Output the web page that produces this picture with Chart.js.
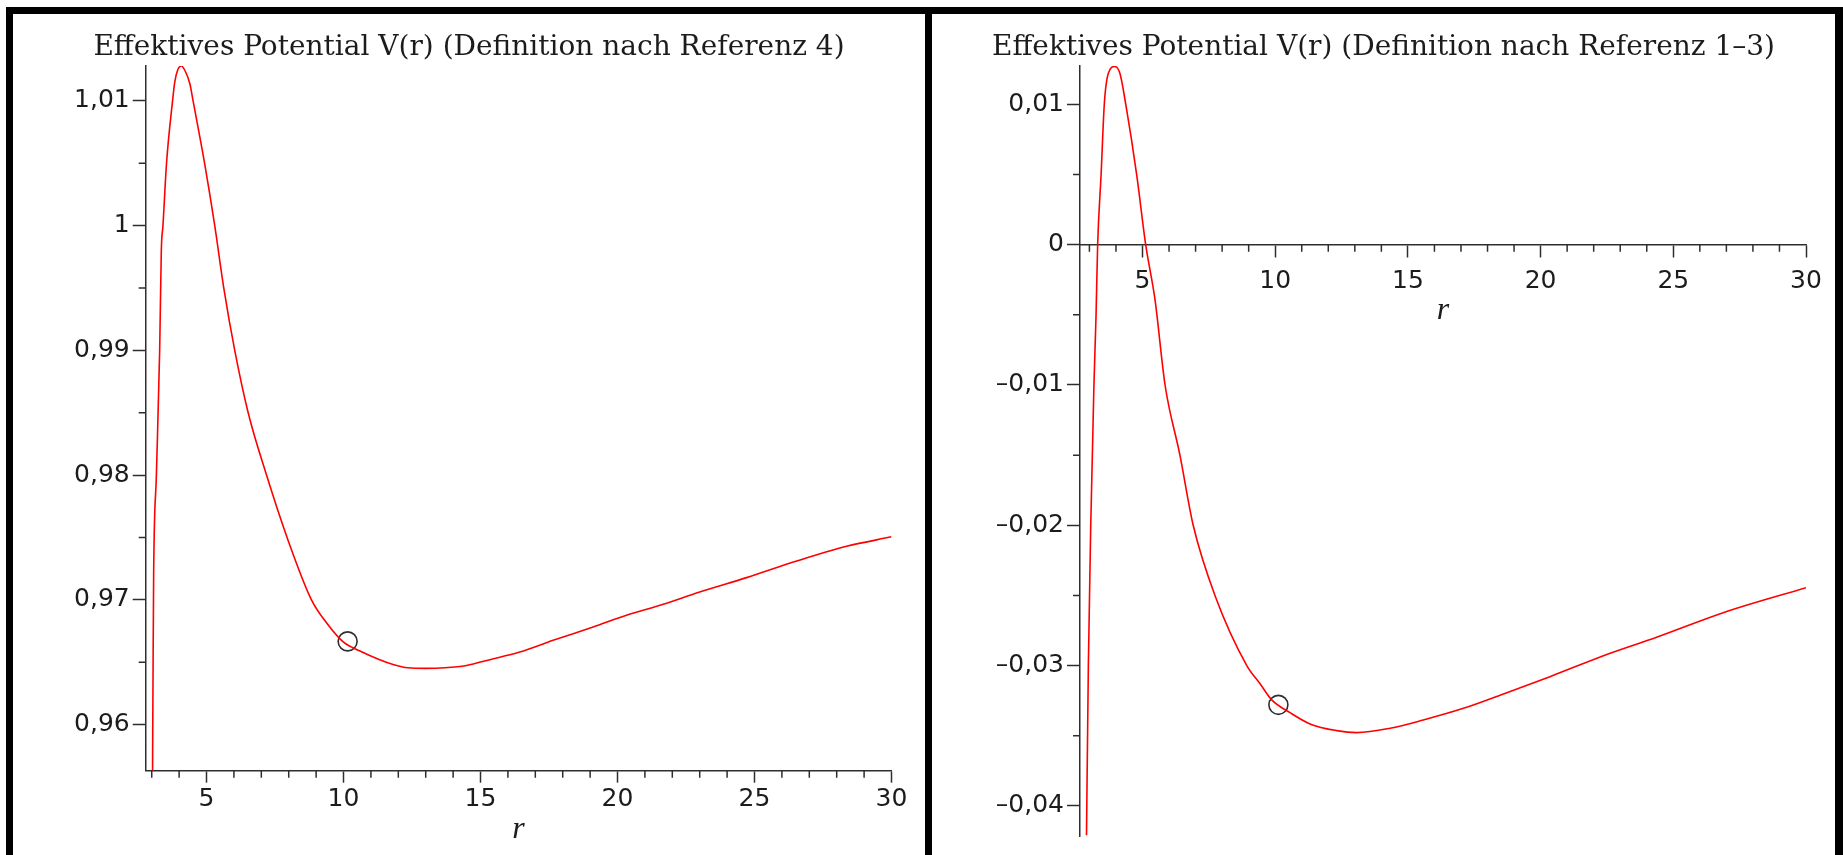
<!DOCTYPE html>
<html>
<head>
<meta charset="utf-8">
<script src="https://cdn.jsdelivr.net/npm/chart.js@4.4.1/dist/chart.umd.min.js"></script>
<style>
  html, body { margin: 0; padding: 0; background: #fff; overflow: hidden; }
  .frame { position: absolute; background: #000; }
  canvas { position: absolute; top: 14px; }
</style>
</head>
<body>
<div class="frame" style="left:6px;top:7px;width:1837px;height:7px"></div>
<div class="frame" style="left:6px;top:7px;width:7px;height:848px"></div>
<div class="frame" style="left:925px;top:7px;width:7px;height:848px"></div>
<div class="frame" style="left:1835px;top:7px;width:8px;height:848px"></div>
<canvas id="left" width="912" height="841" style="left:13px"></canvas>
<canvas id="right" width="903" height="841" style="left:932px"></canvas>
<script>
// left panel: Definition nach Referenz 4
const leftR = [3.03, 3.05, 3.07, 3.17, 3.29, 3.35, 3.41, 3.54, 3.76, 3.84, 3.95, 4.08, 4.22, 4.39, 4.51,
  4.93, 5.30, 5.63, 6.03, 6.52, 7.19, 7.94, 8.83, 9.40, 10.0, 10.6, 11.32, 11.81, 12.35, 13.0, 13.7,
  14.49, 15.34, 16.43, 17.65, 19.11, 20.33, 21.67, 23.0, 24.71, 26.54, 28.36, 30.0];
const leftV = [0.9563, 0.9650, 0.9720, 0.9800, 0.9900, 0.9980, 1.0000, 1.0050, 1.0100, 1.0115, 1.0125, 1.0128, 1.0124, 1.0114, 1.0100,
  1.0050, 1.0000, 0.9950, 0.9900, 0.9850, 0.9800, 0.9750, 0.9700, 0.9681, 0.9666, 0.9659, 0.9652, 0.96482, 0.96455, 0.96450, 0.96455,
  0.96474, 0.96520, 0.96581, 0.96675, 0.96782, 0.96876, 0.96964, 0.97063, 0.97178, 0.97311, 0.97429, 0.97505];
const leftMarkR = [10.15];
const leftMarkV = [0.96667];
const leftYTicks = [0.96, 0.97, 0.98, 0.99, 1, 1.01];
const leftYLabels = ['0,96', '0,97', '0,98', '0,99', '1', '1,01'];
const leftYMinor = [0.965, 0.975, 0.985, 0.995, 1.005];

// right panel: Definition nach Referenz 1-3
const rightR = [2.89, 2.96, 3.05, 3.17, 3.25, 3.31, 3.44, 3.56, 3.71, 3.96, 4.15, 4.37, 4.78, 5.12, 5.47,
  5.85, 6.41, 6.91, 7.73, 8.93, 9.43, 9.87, 10.56, 11.31, 12.32, 13.07, 14.33, 15.58, 17.09, 18.6,
  20.35, 22.62, 24.37, 26.88, 30.0];
const rightV = [-0.0421, -0.0300, -0.0200, -0.0100, -0.0050, 0.0000, 0.0050, 0.0100, 0.0122, 0.0127, 0.0122, 0.0100, 0.0050, 0.0000, -0.0039,
  -0.0100, -0.0150, -0.0200, -0.0250, -0.0300, -0.0313, -0.03245, -0.03336, -0.03416, -0.03464, -0.03478, -0.03447, -0.03388, -0.03305, -0.03202,
  -0.03079, -0.02912, -0.02798, -0.02623, -0.02445];
const rightMarkR = [10.12];
const rightMarkV = [-0.0328];
const rightYTicks = [-0.04, -0.03, -0.02, -0.01, 0, 0.01];
const rightYLabels = ['–0,04', '–0,03', '–0,02', '–0,01', '0', '0,01'];
const rightYMinor = [-0.035, -0.025, -0.015, -0.005, 0.005];

const xTicks = [5, 10, 15, 20, 25, 30];
const xLabels = ['5', '10', '15', '20', '25', '30'];
const xMinor = [3, 4, 6, 7, 8, 9, 11, 12, 13, 14, 16, 17, 18, 19, 21, 22, 23, 24, 26, 27, 28, 29];

const AXIS = '#2e2e2e';
const TEXT = '#1c1c1c';
const CURVE = '#ff0000';
const TICK_FONT = { family: 'DejaVu Sans', size: 25, lineHeight: 28 / 25 };

// short unlabelled ticks between the labelled ones
const minorTicks = {
  id: 'minorTicks',
  afterDraw(chart, args, opts) {
    const { ctx, chartArea } = chart;
    const xs = chart.scales.x, ys = chart.scales.y;
    const base = opts.xAxisAt === null ? chartArea.bottom : ys.getPixelForValue(opts.xAxisAt);
    ctx.save();
    ctx.strokeStyle = AXIS;
    ctx.lineWidth = 1.5;
    ctx.beginPath();
    opts.x.forEach(v => {
      const p = xs.getPixelForValue(v);
      if (p < chartArea.left + 2) return;
      ctx.moveTo(p, base);
      ctx.lineTo(p, base + 7);
    });
    opts.y.forEach(v => {
      const p = ys.getPixelForValue(v);
      ctx.moveTo(chartArea.left - 7, p);
      ctx.lineTo(chartArea.left, p);
    });
    ctx.stroke();
    ctx.restore();
  }
};

function makeChart(canvas, spec) {
  return new Chart(canvas.getContext('2d'), {
    type: 'scatter',
    data: {
      datasets: [{
        data: spec.r.map((r, i) => ({ x: r, y: spec.v[i] })),
        showLine: true,
        borderColor: CURVE,
        borderWidth: 1.6,
        pointRadius: 0,
        cubicInterpolationMode: 'monotone',
        xAxisID: 'x',
        yAxisID: 'y',
      }, {
        data: spec.markR.map((r, i) => ({ x: r, y: spec.markV[i] })),
        showLine: false,
        pointRadius: 9.5,
        pointBorderWidth: 1.6,
        pointBorderColor: AXIS,
        pointBackgroundColor: 'rgba(0,0,0,0)',
        xAxisID: 'x',
        yAxisID: 'y',
      }]
    },
    options: {
      responsive: false,
      animation: false,
      events: [],
      layout: { padding: { left: 0, right: 0, top: 0, bottom: spec.padBottom } },
      scales: {
        x: {
          type: 'linear',
          axis: 'x',
          min: spec.xMin,
          max: 30,
          position: spec.xPosition,
          afterBuildTicks: s => { s.ticks = xTicks.map(v => ({ value: v })); },
          afterFit: s => { s.height = spec.xHeight; },
          grid: { drawOnChartArea: false, tickLength: 12, tickColor: AXIS, tickWidth: 1.5 },
          border: { color: AXIS, width: 1.5 },
          ticks: {
            autoSkip: false, maxRotation: 0, padding: spec.xPad, color: TEXT, font: TICK_FONT,
            callback: (v, i) => xLabels[i],
          },
          title: {
            display: true, text: 'r', color: TEXT, padding: 0,
            font: { family: 'Liberation Serif', style: 'italic', size: 32, lineHeight: 1.2 },
          },
        },
        y: {
          type: 'linear',
          axis: 'y',
          min: spec.yMin,
          max: spec.yMax,
          position: 'left',
          afterBuildTicks: s => { s.ticks = spec.yTicks.map(v => ({ value: v })); },
          afterFit: s => { s.width = spec.yWidth; s.paddingTop = 0; s.paddingBottom = 0; },
          grid: { drawOnChartArea: false, tickLength: 13, tickColor: AXIS, tickWidth: 1.5 },
          border: { color: AXIS, width: 1.5 },
          ticks: {
            autoSkip: false, padding: 3, color: TEXT, font: TICK_FONT,
            callback: (v, i) => spec.yLabels[i],
          },
        },
        spacer: {
          type: 'linear',
          axis: 'y',
          position: 'right',
          display: true,
          grid: { display: false },
          border: { display: false },
          ticks: { display: false },
          afterFit: s => { s.width = spec.rightGap; },
        },
      },
      plugins: {
        legend: { display: false },
        tooltip: { enabled: false },
        title: {
          display: true,
          text: spec.title,
          color: TEXT,
          font: { family: 'DejaVu Serif', size: 28, weight: 'normal', lineHeight: 1.2 },
          padding: { top: 17.2, bottom: 1.2 },
        },
        minorTicks: { x: xMinor, y: spec.yMinor, xAxisAt: spec.xAxisAt },
      },
    },
    plugins: [minorTicks],
  });
}

makeChart(document.getElementById('left'), {
  title: 'Effektives Potential V(r) (Definition nach Referenz 4)',
  r: leftR, v: leftV, markR: leftMarkR, markV: leftMarkV,
  yTicks: leftYTicks, yLabels: leftYLabels, yMinor: leftYMinor,
  xMin: 2.78, yMin: 0.9563, yMax: 1.0128,
  xPosition: 'bottom', xAxisAt: null, xHeight: 78.4, xPad: 2.4, padBottom: 5.9,
  yWidth: 132.7, rightGap: 33.5,
});

makeChart(document.getElementById('right'), {
  title: 'Effektives Potential V(r) (Definition nach Referenz 1–3)',
  r: rightR, v: rightV, markR: rightMarkR, markV: rightMarkV,
  yTicks: rightYTicks, yLabels: rightYLabels, yMinor: rightYMinor,
  xMin: 2.645, yMin: -0.04215, yMax: 0.01274,
  xPosition: { y: 0 }, xAxisAt: 0, xHeight: 85, xPad: 10.5, padBottom: 19,
  yWidth: 148, rightGap: 29,
});
</script>
</body>
</html>
